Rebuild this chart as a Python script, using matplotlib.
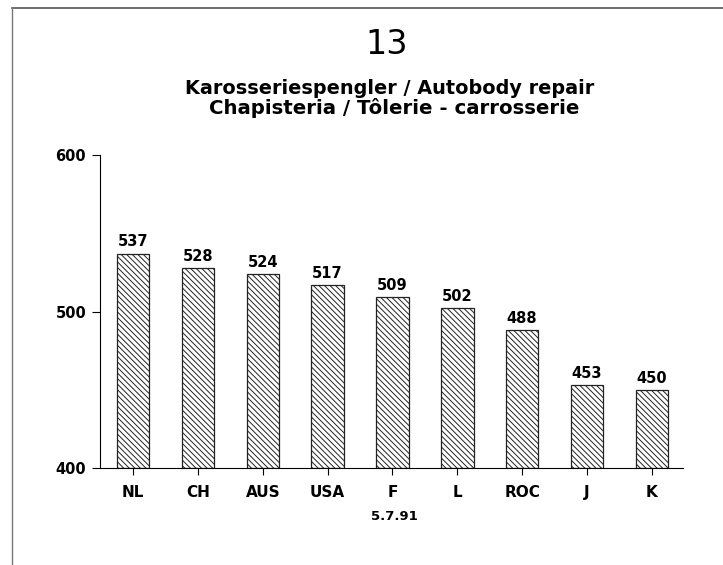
import matplotlib
matplotlib.use("Agg")
import matplotlib.pyplot as plt
from matplotlib.lines import Line2D

countries = ["NL", "CH", "AUS", "USA", "F", "L", "ROC", "J", "K"]
values = [537, 528, 524, 517, 509, 502, 488, 453, 450]
yticks = [400, 500, 600]

plt.rcParams['font.family'] = ['DejaVu Sans']
plt.rcParams['hatch.linewidth'] = 0.7

fig = plt.figure(figsize=(7.23, 5.65), dpi=100)
ax = fig.add_axes([100 / 723, 1 - 468 / 565, 583 / 723, 313 / 565])

x = list(range(len(countries)))
bars = ax.bar(x, [v - 400 for v in values], bottom=400, width=0.5,
              color='white', edgecolor='#222222', linewidth=0.9, hatch='\\\\\\\\\\\\')
for xi, v in zip(x, values):
    ax.annotate(str(v), (xi, v), xytext=(0, 3), textcoords='offset points',
                ha='center', va='bottom', fontsize=10.5, fontweight='bold')

ax.set_xlim(-0.51, 8.48)
ax.set_ylim(400, 600)
ax.set_yticks(yticks)
ax.set_xticks(x)
ax.set_xticklabels(countries, fontsize=11, fontweight='bold')
ax.set_yticklabels([str(t) for t in yticks], fontsize=10.5, fontweight='bold')
ax.tick_params(axis='x', direction='out', length=5, width=0.8, pad=7)
ax.tick_params(axis='y', direction='out', length=6, width=0.8, pad=4)
ax.spines['top'].set_visible(False)
ax.spines['right'].set_visible(False)
for s in ('left', 'bottom'):
    ax.spines[s].set_linewidth(0.8)

fig.text(0.535, 1 - 45 / 565, "13", ha='center', va='center', fontsize=24)
fig.text(0.539, 1 - 88 / 565, "Karosseriespengler / Autobody repair",
         ha='center', va='center', fontsize=13.9, fontweight='bold')
fig.text(0.545, 1 - 108 / 565, "Chapisteria / Tôlerie - carrosserie",
         ha='center', va='center', fontsize=14.2, fontweight='bold')
fig.text(394 / 723, 1 - 517 / 565, "5.7.91", ha='center', va='center',
         fontsize=9.5, fontweight='bold')

# frame lines of the scanned page
fig.add_artist(Line2D([12 / 723, 1], [1 - 8 / 565, 1 - 8 / 565], color='#555555', lw=1.2))
fig.add_artist(Line2D([12 / 723, 12 / 723], [0, 1 - 8 / 565], color='#777777', lw=1.0))

fig.savefig("out.png", dpi=100)
